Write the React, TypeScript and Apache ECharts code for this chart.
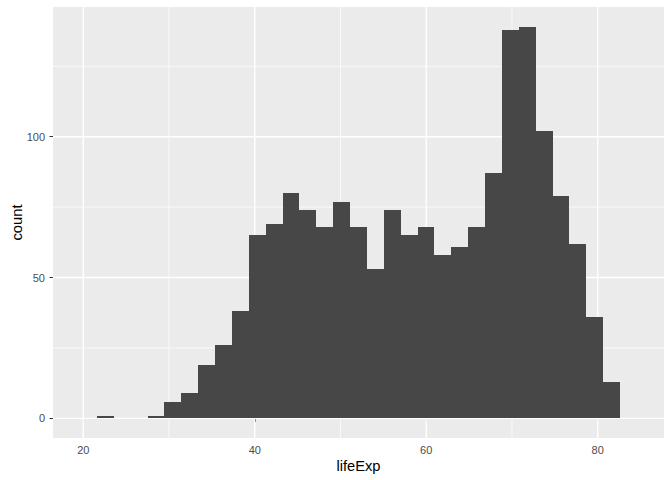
import React, { useEffect, useRef } from "react";
import * as echarts from "echarts";

// Histogram of lifeExp: 31 bins
const binStart = 21.6;
const binWidth = 1.968;
const counts = [
  1, 0, 0, 1, 6, 9, 19, 26, 38, 65, 69, 80, 74, 68, 77, 68, 53, 74, 65, 68,
  58, 61, 68, 87, 138, 139, 102, 79, 62, 36, 13,
];

const xTicks = [20, 40, 60, 80];
const xMinor = [30, 50, 70];
const yTicks = [0, 50, 100];
const yMinor = [25, 75, 125];

const X_MIN = 16.47;
const X_MAX = 87.73;
const Y_MIN = -6.95;
const Y_MAX = 146.05;

const FONT = "'Liberation Sans', Arial, Helvetica, sans-serif";

export default function App() {
  const ref = useRef<HTMLDivElement>(null);

  useEffect(() => {
    if (!ref.current) return;
    const chart = echarts.init(ref.current, undefined, { renderer: "svg" });

    const barData = counts.map((c, i) => [
      binStart + i * binWidth,
      binStart + (i + 1) * binWidth,
      c,
    ]);

    // kind: 0 x-major, 1 x-minor, 2 y-major, 3 y-minor
    const gridData: number[][] = [
      ...xTicks.map((v) => [v, 0, 0]),
      ...xMinor.map((v) => [v, 0, 1]),
      ...yTicks.map((v) => [v, 0, 2]),
      ...yMinor.map((v) => [v, 0, 3]),
    ];

    chart.setOption({
      animation: false,
      backgroundColor: "#FFFFFF",
      textStyle: { fontFamily: FONT },
      grid: {
        left: 53,
        right: 8,
        top: 7,
        bottom: 42,
        show: true,
        backgroundColor: "#EBEBEB",
        borderWidth: 0,
        containLabel: false,
        outerBoundsMode: "none",
      },
      xAxis: {
        type: "value",
        min: X_MIN,
        max: X_MAX,
        name: "lifeExp",
        nameLocation: "middle",
        nameGap: 20,
        nameMoveOverlap: false,
        nameTextStyle: { color: "#000000", fontSize: 14.7, fontFamily: FONT },
        axisLine: { show: false },
        axisTick: {
          show: true,
          length: 3.5,
          customValues: xTicks,
          lineStyle: { color: "#333333", width: 1 },
        },
        axisLabel: {
          show: true,
          customValues: xTicks,
          margin: 6,
          color: "#4D4D4D",
          fontSize: 11,
          fontFamily: FONT,
        },
        splitLine: { show: false },
      },
      yAxis: {
        type: "value",
        min: Y_MIN,
        max: Y_MAX,
        name: "count",
        nameLocation: "middle",
        nameGap: 29,
        nameRotate: 90,
        nameMoveOverlap: false,
        nameTextStyle: { color: "#000000", fontSize: 14.7, fontFamily: FONT },
        axisLine: { show: false },
        axisTick: {
          show: true,
          length: 3.5,
          customValues: yTicks,
          lineStyle: { color: "#333333", width: 1 },
        },
        axisLabel: {
          show: true,
          customValues: yTicks,
          margin: 8,
          color: "#4D4D4D",
          fontSize: 11,
          fontFamily: FONT,
        },
        splitLine: { show: false },
      },
      series: [
        {
          type: "custom",
          z: 1,
          silent: true,
          clip: true,
          data: gridData,
          encode: { x: 0, y: 1 },
          renderItem: (params: any, api: any) => {
            const v = api.value(0);
            const kind = api.value(2);
            let p1: number[];
            let p2: number[];
            if (kind < 2) {
              p1 = api.coord([v, Y_MIN]);
              p2 = api.coord([v, Y_MAX]);
            } else {
              p1 = api.coord([X_MIN, v]);
              p2 = api.coord([X_MAX, v]);
            }
            const major = kind === 0 || kind === 2;
            return {
              type: "line",
              shape: { x1: p1[0], y1: p1[1], x2: p2[0], y2: p2[1] },
              style: { stroke: "#FFFFFF", lineWidth: major ? 1.4 : 0.7 },
            };
          },
        },
        {
          type: "custom",
          z: 3,
          silent: true,
          data: barData,
          encode: { x: [0, 1], y: 2 },
          renderItem: (params: any, api: any) => {
            if (api.value(2) <= 0) return null;
            const top = api.coord([api.value(0), api.value(2)]);
            const bottom = api.coord([api.value(1), 0]);
            const x0 = Math.round(top[0]);
            const x1 = Math.round(bottom[0]);
            const y0 = Math.round(top[1]);
            const y1 = Math.round(bottom[1]);
            return {
              type: "rect",
              shape: { x: x0, y: y0, width: x1 - x0, height: y1 - y0 },
              style: { fill: "#474747" },
            };
          },
        },
      ],
    });

    return () => {
      chart.dispose();
    };
  }, []);

  return (
    <div
      ref={ref}
      style={{
        position: "absolute",
        left: 0,
        top: 0,
        width: 672,
        height: 480,
        background: "#FFFFFF",
      }}
    />
  );
}
